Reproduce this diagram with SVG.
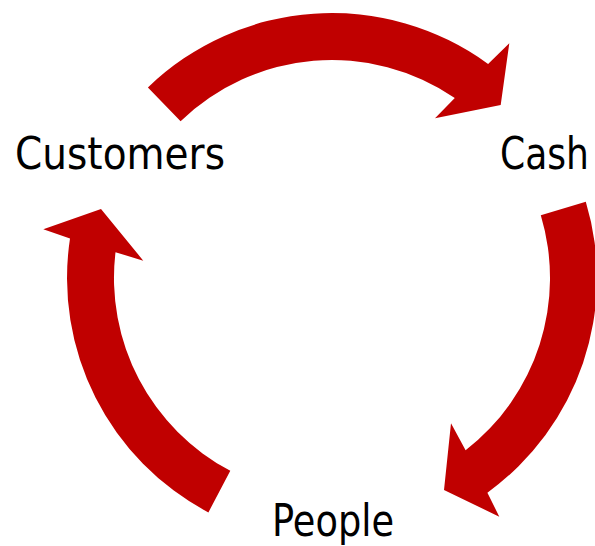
<svg xmlns="http://www.w3.org/2000/svg" width="595" height="546" viewBox="0 0 595 546">
<style>
.arrow{fill:#C00000;stroke:none}
.label{font-family:"DejaVu Sans","Verdana",sans-serif;font-size:45px;fill:#000}
</style>
<rect width="595" height="546" fill="#fff"/>
<g id="connectors">
<path id="arrow-customers-cash" class="arrow" d="M147.9,87.4 A265,265 0 0 1 488.1,63.9 L509.3,43.3 L500.7,105 L435,118.3 L454.8,97.9 A218,218 0 0 0 180.6,121.2 Z"/>
<path id="arrow-cash-people" class="arrow" d="M585.8,201.8 A265,265 0 0 1 487.4,492.7 L499.3,516.7 L444,490 L451,423.3 L465.6,450.3 A218,218 0 0 0 540.8,215.3 Z"/>
<path id="arrow-people-customers" class="arrow" d="M208.4,512.4 A265,265 0 0 1 70,238.4 L43.3,229.3 L101,209 L143.3,260.7 L115.5,252.2 A218,218 0 0 0 230.3,470.8 Z"/>
</g>
<g id="node-customers"><text class="label" x="15" y="169" textLength="210" lengthAdjust="spacingAndGlyphs">Customers</text></g>
<g id="node-cash"><text class="label" x="500" y="169" textLength="89" lengthAdjust="spacingAndGlyphs">Cash</text></g>
<g id="node-people"><text class="label" x="272" y="536" textLength="122" lengthAdjust="spacingAndGlyphs">People</text></g>
</svg>
